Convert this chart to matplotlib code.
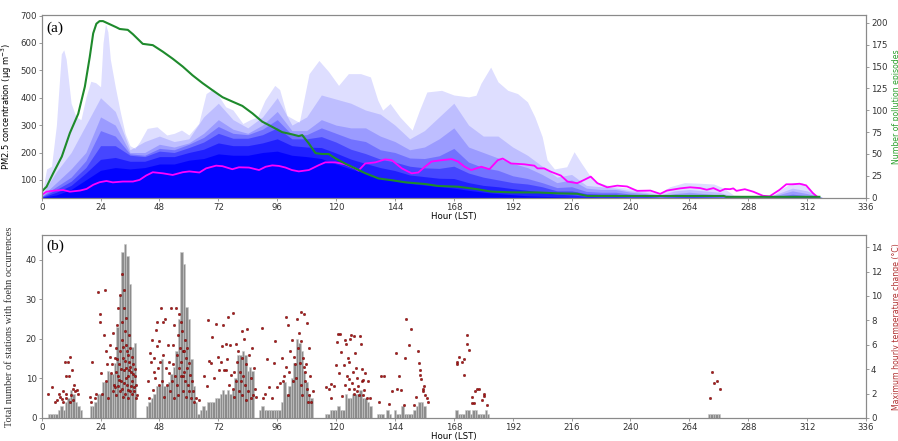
import numpy as np
import matplotlib
matplotlib.use("Agg")
import matplotlib.pyplot as plt

# ---- panel (a): mean PM2.5, pollution-episode count, episode envelopes ----
ep_hours = [0, 2, 4.7, 8.2, 11.5, 14.9, 17.6, 19.6, 21, 22.3, 23.6, 25, 27.7, 30.4, 31.8, 35.1, 37.2,
            41.2, 45.3, 49.4, 53.4, 57.5, 61.5, 65.6, 69.6, 73.7, 77.7, 81.8, 85.9, 89.9, 94, 98, 102,
            104.8, 106.2, 108.9, 111.6, 114.3, 117, 119.7, 123.7, 127.8, 131.9, 137.3, 142.7, 148.1,
            156.2, 161.6, 169.7, 177.8, 183.2, 191.3, 202.1, 210.2, 218.3, 222.4, 226.5, 278, 279, 317]
ep_counts = [7, 12.6, 28, 47, 74, 96, 127, 161, 188, 199, 202, 202, 198.5, 195, 193, 192, 187,
             176, 174.5, 167, 159, 150, 140, 131, 123, 115, 110, 105, 96.5, 87, 81, 75, 72.5,
             70.5, 71.6, 62, 51, 50, 50, 45, 39, 33.6, 28, 22, 20, 17.6,
             15.7, 13.4, 12.6, 9.6, 7, 6.1, 6, 5, 4.5, 2, 2, 2, 1, 1]

mean_hours = [0, 2, 5.4, 8.8, 11.5, 15.6, 18.3, 21, 23.6, 26.4, 29, 33.1, 37.2, 39.9, 42.6, 45.3, 49.4,
              53.4, 57.5, 60.2, 64.3, 67, 71.1, 73.7, 77.7, 80.4, 84.5, 88.6, 91.3, 94, 96.7, 99.4, 102,
              104.8, 108.9, 113, 115.6, 119.7, 123.7, 127.8, 129.1, 131.9, 136, 140, 142.7, 146.8, 150.8,
              153.5, 156.2, 158.9, 163, 167.1, 169.7, 172.4, 175.1, 179.2, 182.5, 185.9, 187.9, 191.3,
              196.7, 200.8, 202.1, 204.8, 207.5, 211.6, 214.3, 218.3, 221.1, 223.8, 226.5, 230.5, 234.6,
              238.6, 242.7, 248.1, 252.1, 254.8, 260.2, 264.3, 268.4, 271.1, 273.8, 276.5, 278.5, 280.5,
              281.9, 283.2, 286.6, 290, 294, 296.7, 300.8, 303.5, 306.2, 308.9, 311.6, 314.3, 316.3]
mean_pm25 = [45, 57, 61, 63, 57, 61, 67, 82, 91.5, 96, 91, 94, 94, 100, 116, 128, 124,
             118, 128, 131, 127, 142, 152, 150, 139, 146, 145, 136, 148, 153, 151, 145, 136,
             131, 136, 154, 164, 164, 157, 142, 134, 160, 164, 175, 172, 142, 124,
             127, 148, 167, 172, 176, 167, 148, 136, 148, 139, 172, 178, 160,
             157, 152, 142, 142, 130, 116, 94, 88, 100, 112, 88, 73, 79,
             76, 60, 61, 49, 61, 69, 73, 70, 64, 70, 59, 67, 66,
             69, 60, 66, 57, 42, 40, 64, 84, 84, 86, 80, 52, 37]

# outermost envelope of all episodes
env_hours = [0, 2, 4, 6, 8, 9, 10, 12, 14, 16, 18, 20, 22, 24, 25, 26, 27, 28, 30, 32,
             34, 36, 38, 40, 43, 47, 51, 54, 57, 60, 64, 67, 70, 72, 75, 78, 82, 85, 88, 91,
             95, 97, 100, 105, 109, 113, 117, 121, 125, 130, 134, 137, 139, 142, 146, 151, 154, 157, 163, 168,
             174, 177, 179, 183, 186, 190, 194, 198, 201, 204, 206, 209, 214, 217, 220, 225, 231, 239, 247, 252,
             256, 262, 268, 274, 278, 282, 290, 298, 302, 306, 310, 313, 316]
env_pm25 = [40, 140, 150, 300, 560, 575, 540, 380, 330, 320, 400, 460, 455, 440, 600, 670, 640, 540, 440, 350,
            270, 225, 215, 240, 288, 294, 264, 270, 282, 264, 306, 415, 433, 409, 367, 355, 306, 320, 330, 391,
            445, 430, 335, 310, 488, 536, 495, 445, 488, 488, 476, 391, 355, 379, 330, 282, 355, 421, 427, 410,
            403, 409, 452, 512, 458, 427, 415, 385, 330, 258, 173, 140, 148, 203, 161, 95, 80, 70, 60, 50,
            75, 90, 88, 85, 70, 45, 40, 42, 70, 90, 90, 70, 40]

# inner envelopes (every 6 h), from light to dense
layer_hours = list(range(0, 319, 6))
layer2 = [45, 130, 200, 300, 400, 350, 210, 240, 260, 240, 250, 330, 380, 320, 290, 330, 400, 300, 330, 410,
          395, 380, 355, 340, 300, 250, 280, 330, 380, 300, 260, 260, 220, 190, 150, 110, 120, 80, 75, 70,
          60, 55, 45, 60, 65, 60, 55, 40, 36, 36, 50, 70, 60, 36]
layer3 = [40, 90, 140, 200, 330, 300, 200, 200, 230, 220, 235, 270, 320, 285, 270, 300, 350, 280, 280, 320,
          300, 290, 290, 260, 240, 210, 220, 250, 290, 220, 200, 180, 160, 145, 120, 90, 100, 70, 65, 65,
          55, 50, 40, 50, 55, 50, 45, 38, 36, 36, 45, 60, 50, 36]
layer4 = [40, 75, 110, 170, 280, 260, 195, 190, 215, 210, 230, 255, 295, 270, 265, 285, 320, 265, 265, 290,
          270, 250, 240, 210, 200, 180, 178, 188, 215, 165, 145, 135, 115, 105, 90, 72, 75, 58, 55, 55,
          48, 45, 38, 42, 45, 42, 40, 36, 36, 36, 40, 48, 42, 36]
layer5 = [38, 65, 95, 145, 225, 225, 190, 185, 205, 200, 218, 238, 270, 252, 252, 265, 290, 250, 250, 258,
          238, 212, 196, 176, 165, 150, 144, 142, 150, 125, 110, 100, 90, 85, 75, 60, 60, 50, 48, 48,
          42, 40, 36, 38, 40, 38, 36, 36, 36, 36, 36, 40, 38, 36]
layer6 = [36, 55, 80, 125, 175, 182, 168, 168, 185, 185, 200, 212, 235, 225, 225, 235, 250, 225, 220, 218,
          198, 176, 160, 145, 134, 118, 112, 106, 105, 90, 80, 75, 68, 62, 55, 48, 45, 40, 38, 38,
          36, 36, 36, 36, 36, 36, 36, 36, 36, 36, 36, 36, 36, 36]
layer7 = [36, 45, 65, 100, 135, 145, 140, 145, 158, 158, 172, 178, 195, 190, 190, 200, 205, 190, 185, 178,
          158, 140, 124, 108, 97, 87, 81, 76, 70, 62, 55, 50, 46, 42, 40, 38, 36, 36, 36, 36,
          36, 36, 36, 36, 36, 36, 36, 36, 36, 36, 36, 36, 36, 36]

# ---- panel (b): foehn station counts (bars) and max hourly dT (dots) ----
bar_starts = [3, 20, 43, 89, 116, 137, 169, 272]
bar_counts = [
    [1, 1, 1, 1, 2, 3, 2, 4, 5, 7, 6, 4, 3, 2],
    [3, 3, 4, 6, 6, 9, 9, 12, 11, 11, 14, 23, 31, 42, 44, 41, 34, 18, 19],
    [3, 4, 5, 6, 8, 8, 15, 8, 8, 9, 11, 13, 17, 25, 42, 39, 28, 25, 15, 8, 4, 1, 2, 3, 2, 4, 4, 4,
     5, 5, 6, 7, 6, 7, 6, 7, 10, 16, 16, 17, 16, 12, 13, 12],
    [2, 3, 2, 2, 2, 2, 2, 2, 2, 4, 9, 6, 8, 10, 14, 20, 19, 17, 12, 9, 6, 5],
    [1, 1, 2, 2, 2, 3, 2, 2, 6, 5, 5, 6, 6, 6, 7, 5, 5, 4, 3],
    [1, 1, 1, 0, 2, 1, 0, 2, 1, 1, 3, 1, 1, 1, 1, 2, 3, 4, 4, 3],
    [2, 1, 1, 1, 2, 2, 1, 2, 2, 1, 1, 1, 2, 1],
    [1, 1, 1, 1, 1],
]

dt_hours = [
    [2.7, 4.1, 5.4, 7.2, 7.4, 8.1, 8.8, 9.5, 9.9, 10.1, 10.8, 11.1, 11.5, 11.8, 12.2, 12.6, 13.1, 13.5,
     14.2, 14.9, 8.5, 6.1, 10.1, 11.5, 12.8],
    [19.9, 20.3, 20.7, 21.6, 22.3, 23.0, 23.7, 23.9, 24.3, 24.7, 25.3, 25.7, 26.1, 26.4, 26.6, 27.0, 27.7,
     28.0, 28.4, 28.8, 29.1, 29.3, 29.7, 30.2, 30.4, 30.7, 31.1, 31.5, 31.8, 32.1, 32.3, 32.6, 32.9, 33.1,
     33.4, 33.7, 33.9, 34.2, 34.5, 34.8, 35.0, 35.3, 35.6, 35.8, 36.1, 36.5, 36.9, 37.2, 37.6, 37.9, 38.3,
     38.5, 38.8, 32.0, 33.1, 33.9, 35.0, 30.4, 29.1, 31.2, 33.4, 34.5, 32.6, 35.6, 31.0, 31.6, 32.4, 32.8,
     33.3, 33.6, 34.0, 34.3, 34.7, 35.2, 35.5, 36.0, 36.3, 36.7, 37.0, 37.4, 37.8, 38.1, 30.0, 30.8],
    [43.3, 43.7, 44.2, 44.6, 45.0, 45.3, 45.6, 45.8, 46.1, 46.7, 46.9, 47.2, 47.5, 47.7, 48.0, 48.4, 48.7,
     49.0, 49.4, 49.6, 50.0, 50.4, 50.7, 51.0, 51.4, 51.8, 52.1, 52.3, 52.7, 53.1, 53.4, 53.7, 54.1, 54.5,
     54.8, 55.0, 55.3, 55.6, 55.8, 56.1, 56.4, 56.7, 56.9, 57.2, 57.5, 57.7, 58.0, 58.3, 58.6, 58.8, 59.1,
     59.4, 59.6, 59.9, 60.2, 60.4, 60.9, 61.3, 61.8, 62.2, 62.9, 64.0, 56.8, 58.1, 55.4, 54.1, 58.8, 57.5],
    [66.3, 67.2, 67.6, 68.3, 68.9, 69.6, 70.3, 70.9, 71.7, 72.3, 73.0, 73.7, 74.0, 74.4, 75.0, 75.3, 75.7,
     76.1, 76.7, 77.1, 77.8, 78.4, 79.1, 79.4, 79.8, 80.2, 80.5, 80.7, 81.1, 81.5, 81.8, 82.1, 82.5, 82.9,
     83.2, 83.8, 84.2, 84.5, 85.2, 85.9, 86.1, 86.5, 86.9, 87.2, 76.4, 77.8, 78.4, 81.8, 83.2, 85.2],
    [89.9, 90.3, 91.0, 92.0, 92.6, 93.7, 94.7, 95.1, 96.0, 97.0, 97.8, 98.3, 98.8, 99.4, 99.7, 100.2, 100.5,
     100.7, 101.4, 102.1, 102.4, 102.8, 103.2, 103.7, 104.1, 104.5, 105.5, 106.8, 108.2, 104.8, 105.9, 106.4,
     107.2, 107.5, 108.2, 108.8, 109.1, 109.5, 109.9, 110.4, 105.5, 106.2, 106.8, 105.2, 107.8, 108.5],
    [115.9, 117.0, 117.9, 119.0, 118.0, 119.9, 120.3, 120.7, 121.3, 121.7, 122.1, 122.4, 123.1, 123.5, 124.0,
     124.4, 124.8, 125.1, 125.3, 125.7, 126.1, 126.4, 126.7, 127.1, 127.5, 127.7, 128.0, 128.4, 128.8, 129.4,
     129.8, 130.2, 130.4, 130.7, 131.1, 131.5, 131.8, 132.4, 133.1, 133.8, 127.1, 125.1, 123.8, 128.4, 131.1],
    [137.6, 138.5, 139.5, 141.6, 142.6, 144.6, 144.8, 145.6, 146.6, 147.5, 147.9, 148.6, 149.7, 150.6, 151.7,
     152.6, 153.3, 153.7, 154.0, 154.3, 154.7, 155.4, 155.6, 156.0, 156.4, 157.0, 157.4],
    [169.2, 169.3, 170.3, 171.2, 172.2, 172.3, 173.2, 173.4, 174.3, 175.3, 175.5, 176.4, 176.6, 177.3, 178.2,
     179.4, 180.3, 180.4, 181.4],
    [272.2, 273.2, 274.1, 275.2, 276.3],
]
dt_values = [
    [1.95, 2.5, 1.3, 2.0, 1.7, 1.55, 2.2, 4.6, 3.4, 2.0, 4.55, 3.4, 4.96, 1.9, 3.9, 2.4, 2.7, 2.2,
     2.3, 2.0, 1.3, 1.5, 1.6, 1.3, 1.5],
    [1.7, 1.3, 4.6, 1.6, 2.0, 10.3, 8.5, 7.9, 3.7, 2.0, 6.8, 10.5, 3.0, 5.5, 4.4, 1.6, 6.0,
     5.0, 3.7, 4.4, 7.0, 2.7, 4.9, 3.8, 5.7, 7.6, 3.4, 4.4, 10.1, 5.5, 3.0, 11.8, 6.4, 4.9,
     3.9, 9.0, 7.1, 6.0, 4.1, 2.7, 5.2, 3.4, 4.6, 2.2, 5.7, 3.8, 3.0, 4.4, 2.2, 3.4, 1.6,
     2.7, 1.9, 2.2, 1.75, 2.0, 1.6, 1.9, 2.2, 9.0, 10.5, 8.2, 7.9, 6.8, 2.6, 3.1, 4.0, 2.4,
     5.8, 2.9, 4.7, 3.3, 5.5, 2.3, 3.9, 4.2, 2.6, 5.0, 2.0, 3.6, 2.5, 4.0, 2.5, 4.8],
    [3.0, 1.6, 5.3, 4.6, 6.4, 2.3, 4.9, 3.8, 3.3, 7.2, 5.9, 7.9, 4.1, 2.7, 6.3, 4.6, 9.0,
     3.0, 7.9, 5.2, 1.75, 8.1, 4.1, 2.7, 6.0, 3.7, 4.6, 2.2, 9.0, 3.0, 6.0, 4.4, 7.6, 3.4,
     9.0, 5.2, 2.7, 6.8, 4.1, 8.5, 5.7, 3.4, 4.6, 7.1, 5.5, 2.2, 3.8, 6.4, 3.0, 4.9, 4.1,
     5.7, 2.7, 4.5, 2.2, 3.5, 1.6, 3.0, 2.2, 1.3, 1.6, 1.5, 7.9, 5.5, 1.9, 1.6, 1.75, 3.4],
    [3.45, 2.6, 8.0, 4.7, 4.5, 6.6, 3.3, 7.7, 5.0, 3.9, 4.6, 5.9, 7.6, 3.95, 6.1, 3.95, 4.8,
     8.3, 6.0, 3.5, 8.6, 3.8, 6.1, 3.0, 4.6, 5.5, 2.2, 3.8, 3.0, 7.1, 4.9, 3.4, 6.5, 2.7,
     4.4, 7.3, 2.2, 5.2, 3.3, 5.7, 1.9, 4.1, 2.4, 1.75, 2.7, 2.4, 1.75, 1.9, 1.5, 1.6],
    [7.4, 1.6, 2.0, 4.8, 2.5, 1.6, 4.5, 6.3, 2.5, 2.85, 4.9, 3.0, 3.4, 8.3, 4.2, 1.9, 7.6,
     3.8, 5.5, 6.4, 3.0, 5.0, 4.4, 3.3, 8.1, 5.7, 8.7, 8.5, 7.8, 7.0, 6.3, 4.9,
     3.8, 3.0, 2.4, 5.7, 1.9, 3.4, 1.3, 2.2, 2.7, 1.9, 4.2, 4.5, 4.4, 1.3],
    [2.5, 2.4, 2.8, 2.6, 1.6, 4.35, 6.2, 6.9, 3.7, 6.9, 5.4, 1.8, 4.35, 6.4, 6.1,
     3.4, 4.9, 4.6, 3.2, 6.5, 6.8, 2.85, 3.8, 6.7, 2.4, 5.3, 4.1, 3.3, 2.6, 1.9,
     6.7, 6.1, 4.0, 3.0, 3.1, 2.3, 3.7, 1.6, 3.0, 1.6, 2.0, 2.4, 2.7, 2.2, 1.9],
    [1.3, 3.4, 3.45, 1.15, 2.2, 5.3, 2.4, 3.4, 2.3, 1.1, 4.9, 8.1, 6.0, 7.3, 1.1,
     1.75, 5.45, 4.5, 3.95, 3.5, 3.2, 2.2, 2.4, 2.6, 1.9, 1.6, 1.3],
    [4.6, 4.4, 5.0, 4.6, 4.8, 3.5, 6.8, 6.1, 5.6, 1.75, 1.25, 1.25, 2.2, 2.4, 2.35,
     1.5, 2.0, 1.8, 1.1],
    [1.67, 3.8, 2.85, 3.07, 2.36],
]

hour_ticks = list(range(0, 337, 24))

fig = plt.figure(figsize=(8.98, 4.41), dpi=100)
ax1 = fig.add_axes([0.0464, 0.5517, 0.918, 0.4143])
ax2 = fig.add_axes([0.0464, 0.0522, 0.918, 0.4150])

spine_c = '#8a8a8a'
tick_fs = 6.2

# envelopes of the episodes, light to dense
ax1.fill_between(env_hours, 0, env_pm25, color='blue', alpha=0.13, lw=0)
for layer, a in zip([layer2, layer3, layer4, layer5, layer6, layer7],
                    [0.14, 0.18, 0.26, 0.38, 0.55, 0.92]):
    ax1.fill_between(layer_hours, 0, layer, color='blue', alpha=a, lw=0)
ax1.plot(mean_hours, mean_pm25, color='magenta', lw=1.3)
ax1.set_xlim(0, 336)
ax1.set_ylim(35, 702)
ax1.set_yticks(range(100, 701, 100))
ax1.set_xticks(hour_ticks)
ax1.set_ylabel('PM2.5 concentration (μg m$^{-3}$)', fontsize=6)
ax1.yaxis.set_label_coords(-0.034, 0.5)
ax1.set_xlabel('Hour (LST)', fontsize=6.2)
ax1.xaxis.set_label_coords(0.5, -0.105)
ax1.xaxis.label.set_va('center')
ax1.text(0.006, 0.93, '(a)', transform=ax1.transAxes, fontsize=11,
         family='Liberation Serif', va='center', ha='left')

ax1r = ax1.twinx()
ax1r.plot(ep_hours, ep_counts, color='#1e8a2c', lw=1.5)
ax1r.set_ylim(0, 209)
ax1r.set_yticks(range(0, 201, 25))
ax1r.set_ylabel('Number of pollution episodes', fontsize=5.6, color='#2ca02c')
ax1r.yaxis.set_label_coords(1.031, 0.5)

# bottom panel
for start, counts in zip(bar_starts, bar_counts):
    hrs = np.arange(start, start + len(counts))
    ax2.bar(hrs, counts, width=1.0, color='#8c8c8c', edgecolor='#c8c8c8', linewidth=0.4)
ax2.set_xlim(0, 336)
ax2.set_ylim(0, 46.3)
ax2.set_yticks(range(0, 41, 10))
ax2.set_xticks(hour_ticks)
ax2.set_ylabel('Total number of stations with foehn occurrences', fontsize=7.5,
               family='Liberation Serif', color='#333333')
ax2.yaxis.set_label_coords(-0.034, 0.5)
ax2.set_xlabel('Hour (LST)', fontsize=6.2)
ax2.xaxis.set_label_coords(0.5, -0.1)
ax2.xaxis.label.set_va('center')
ax2.text(0.006, 0.94, '(b)', transform=ax2.transAxes, fontsize=11,
         family='Liberation Serif', va='center', ha='left')

ax2r = ax2.twinx()
ax2r.scatter(np.concatenate(dt_hours), np.concatenate(dt_values), s=3, color='#b01818',
             edgecolors='#5a0000', linewidths=0.3, zorder=3)
ax2r.set_ylim(0, 15.0)
ax2r.set_yticks(range(0, 15, 2))
ax2r.set_ylabel('Maximum hourly temperature change (°C)', fontsize=5.6, color='#b03030')
ax2r.yaxis.set_label_coords(1.031, 0.5)

for ax in (ax1, ax1r, ax2, ax2r):
    for sp in ax.spines.values():
        sp.set_color(spine_c)
    ax.tick_params(labelsize=tick_fs, colors='#333333', length=2.5, width=0.6, pad=1.0)
    ax.tick_params(color=spine_c)

fig.savefig('out.png', dpi=100)
